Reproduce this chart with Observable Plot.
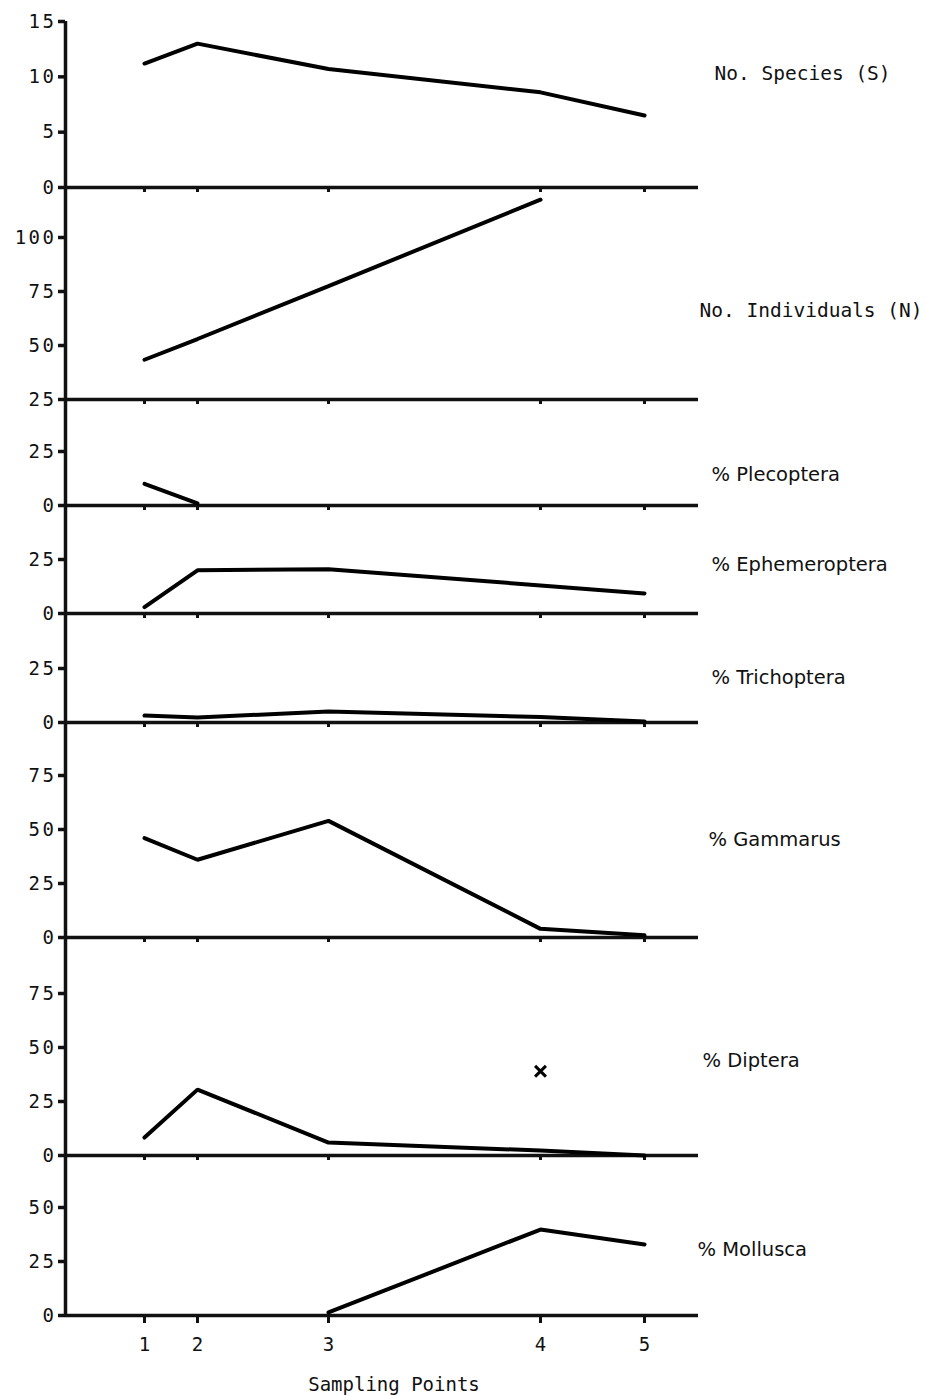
<!DOCTYPE html>
<html>
<head>
<meta charset="utf-8">
<script src="https://cdn.jsdelivr.net/npm/d3@7"></script>
<script src="https://cdn.jsdelivr.net/npm/@observablehq/plot@0.6"></script>
<style>
  html, body { margin: 0; padding: 0; background: #fff; }
  #chart svg { display: block; }
</style>
</head>
<body>
<div id="chart"></div>
<script>
// ---------------- DATA ----------------
const siteLabels = ["1", "2", "3", "4", "5"];
// relative distance of each sampling point along the stream (from the x spacing)
const sitePosition = [0.79, 1.32, 2.63, 4.75, 5.79];
const streamEnd = 6.33;

const noSpecies        = [11.2, 13.0, 10.7, 8.6, 6.5];
const noIndividuals    = [43.4, 53.0, 77.5, 117.5, null];
const pctPlecoptera    = [10.0, 1.0, null, null, null];
const pctEphemeroptera = [3.0, 20.0, 20.5, 13.0, 9.3];
const pctTrichoptera   = [3.2, 2.3, 5.1, 2.5, 0.5];
const pctGammarus      = [46, 36, 54, 4, 1];
const pctDiptera       = [8.3, 30.5, 6.0, 2.3, 0];
const pctMollusca      = [null, null, 1.4, 39.8, 32.9];
const dipteraCross     = [{site: 4, value: 39}];

const panelNames = ["No. Species (S)", "No. Individuals (N)", "% Plecoptera", "% Ephemeroptera",
                    "% Trichoptera", "% Gammarus", "% Diptera", "% Mollusca"];
const panelSeries = [noSpecies, noIndividuals, pctPlecoptera, pctEphemeroptera,
                     pctTrichoptera, pctGammarus, pctDiptera, pctMollusca];
const panelTicks = [[0, 5, 10, 15], [25, 50, 75, 100], [0, 25], [0, 25], [0, 25],
                    [0, 25, 50, 75], [0, 25, 50, 75], [0, 25, 50]];
const panelFloor = [0, 25, 0, 0, 0, 0, 0, 0];
const speciesMax = 15;

// ---------------- LAYOUT ----------------
const W = 926, axisX0 = 65, axisX1 = 698;
const topY = 21;
const baselineY = [187, 399, 505, 613, 722, 937, 1155, 1315];
const gapBelow = 6, lastBottom = 81;
const unitPx = 2.16;              // pixels per unit for the count/percent panels
const labelLayout = [             // vertical placement (in panel units) and horizontal nudge
  {v: 10.3, dx: 16, mono: true},
  {v: 66.0, dx: 1,  mono: true},
  {v: 14.4, dx: 13, mono: false},
  {v: 22.7, dx: 13, mono: false},
  {v: 20.8, dx: 13, mono: false},
  {v: 45.4, dx: 10, mono: false},
  {v: 44.0, dx: 4,  mono: false},
  {v: 30.6, dx: -1, mono: false}
];

const monoFont = "'DejaVu Sans Mono', 'Liberation Mono', monospace";
const sansFont = "'DejaVu Sans', 'Liberation Sans', sans-serif";
const tickName = new Map(sitePosition.map((p, i) => [p, siteLabels[i]]));

const chart = document.getElementById("chart");
let svgTop = 0;

panelNames.forEach((name, k) => {
  const last = k === panelNames.length - 1;
  const mT = k === 0 ? topY : 0;
  const mB = last ? lastBottom : gapBelow;
  const frameH = baselineY[k] - (k === 0 ? topY : svgTop);
  const height = mT + frameH + mB;
  const lo = panelFloor[k];
  const hi = k === 0 ? speciesMax : lo + frameH / unitPx;
  const rows = panelSeries[k].map((v, i) => ({pos: sitePosition[i], value: v}));
  const lab = labelLayout[k];

  const marks = [
    Plot.axisY(panelTicks[k], {tickSize: 7, tickPadding: 2, strokeWidth: 3.5, label: null,
                               fontFamily: monoFont, fontSize: 19}),
    Plot.ruleX([0], {strokeWidth: 3.5, insetBottom: last ? 0 : -mB}),
    Plot.ruleY([lo], {strokeWidth: 3.5}),
    Plot.axisX(sitePosition, {
      tickSize: last ? 8 : 5, strokeWidth: 3, tickPadding: 14, label: null,
      tickFormat: last ? (d) => tickName.get(d) : () => "",
      fontFamily: monoFont, fontSize: 19
    }),
    Plot.line(rows, {x: "pos", y: "value", stroke: "black", strokeWidth: 4, strokeLinejoin: "miter"}),
    Plot.text([name], {x: streamEnd, y: lab.v, dx: lab.dx, textAnchor: "start",
                       fontFamily: lab.mono ? monoFont : sansFont, fontSize: 19.5,
                       fill: "#111"})
  ];
  if (k === 6) {
    marks.push(Plot.dot(dipteraCross, {x: (d) => sitePosition[d.site - 1], y: "value",
                                       symbol: "times", r: 5, stroke: "black", strokeWidth: 3}));
  }
  if (last) {
    marks.push(Plot.text(["Sampling Points"], {frameAnchor: "bottom", dx: 12, dy: 75,
                                               fontFamily: monoFont, fontSize: 19, fill: "#111"}));
  }

  const svg = Plot.plot({
    width: W, height,
    marginLeft: axisX0, marginRight: W - axisX1, marginTop: mT, marginBottom: mB,
    x: {domain: [0, streamEnd]},
    y: {domain: [lo, hi]},
    style: {background: "white", color: "#111", overflow: "visible"},
    marks
  });
  // typewriter-like spacing of the y tick numerals
  d3.select(svg).selectAll("g[aria-label='y-axis tick label'] text").attr("letter-spacing", 2.5);
  chart.appendChild(svg);
  svgTop += height;
});
</script>
</body>
</html>
